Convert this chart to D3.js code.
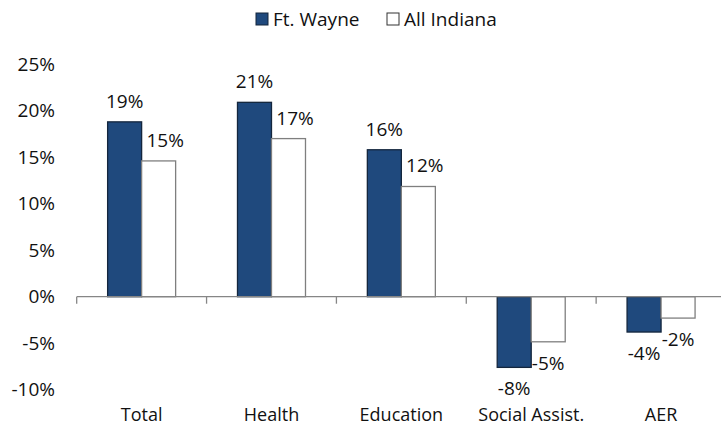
<!DOCTYPE html>
<html>
<head>
<meta charset="utf-8">
<script src="https://cdn.jsdelivr.net/npm/d3@7"></script>
<style>
  body { margin: 0; background: #fff; }
  svg { display: block; font-family: "Open Sans", "Noto Sans", sans-serif; }
  text { fill: #111; }
</style>
</head>
<body>
<svg id="chart"></svg>
<script>
// Percent change by sector, Ft. Wayne vs. all of Indiana
const categories = ['Total', 'Health', 'Education', 'Social Assist.', 'AER'];
const series = ['Ft. Wayne', 'All Indiana'];
const ftWayne = [18.8, 20.9, 15.8, -7.6, -3.8];
const allIndiana = [14.6, 17.0, 11.85, -4.85, -2.3];
const yTicks = [-10, -5, 0, 5, 10, 15, 20, 25];

const width = 721,
    height = 427,
    fontSize = 19;

const colors = { 'Ft. Wayne': '#1f497d', 'All Indiana': '#ffffff' };
const strokes = { 'Ft. Wayne': '#14263d', 'All Indiana': '#7f7f7f' };

const svg = d3.select('#chart')
    .attr('width', width)
    .attr('height', height);

// plot runs a little past the right edge of the picture
const x = d3.scaleBand()
    .domain(categories)
    .range([76.7, 726])
    .padding(0);

// two bars of 34px each, side by side in the middle of the band
const barW = 34;
const x1 = d3.scaleBand()
    .domain(series)
    .range([x.bandwidth() / 2 - barW, x.bandwidth() / 2 + barW]);

const y = d3.scaleLinear()
    .domain([-10, 25])
    .range([389.7, 64.2]);

const rows = categories.map((c, i) => ({
    cat: c,
    values: [
        { key: 'Ft. Wayne', value: ftWayne[i] },
        { key: 'All Indiana', value: allIndiana[i] }
    ]
}));

// y axis labels only
svg.append('g')
    .attr('transform', 'translate(77,0)')
    .call(d3.axisLeft(y)
        .tickValues(yTicks)
        .tickSize(0)
        .tickPadding(22)
        .tickFormat(d => d + '%'))
    .call(g => g.select('.domain').remove())
    .selectAll('text')
    .attr('font-size', fontSize)
    .attr('font-family', '"Open Sans", sans-serif')
    .attr('fill', '#111');

// bars
const groups = svg.append('g')
  .selectAll('g')
  .data(rows)
  .enter().append('g')
    .attr('transform', d => `translate(${x(d.cat)},0)`);

groups.selectAll('rect')
    .data(d => d.values)
    .enter().append('rect')
      .attr('x', d => x1(d.key))
      .attr('y', d => y(Math.max(0, d.value)))
      .attr('width', x1.bandwidth())
      .attr('height', d => Math.abs(y(d.value) - y(0)))
      .attr('fill', d => colors[d.key])
      .attr('stroke', d => strokes[d.key])
      .attr('stroke-width', 1.3);

// value labels
groups.selectAll('text.val')
    .data(d => d.values)
    .enter().append('text')
      .attr('class', 'val')
      .attr('text-anchor', 'middle')
      .attr('font-size', fontSize)
      .attr('x', d => x1(d.key) + x1.bandwidth() / 2 + (d.key === 'All Indiana' && d.value > 0 ? 6.5 : 0))
      .attr('y', d => d.value >= 0 ? y(d.value) - 14 : y(d.value) + 28)
      .text(d => Math.round(d.value) + '%');

// zero line with ticks between categories
const zero = svg.append('g')
    .attr('transform', `translate(0,${y(0)})`);
zero.append('line')
    .attr('x1', x.range()[0])
    .attr('x2', x.range()[1])
    .attr('stroke', '#868686')
    .attr('stroke-width', 1.3);
zero.selectAll('line.tick')
    .data(categories)
    .enter().append('line')
      .attr('class', 'tick')
      .attr('x1', d => x(d))
      .attr('x2', d => x(d))
      .attr('y1', 0)
      .attr('y2', 7)
      .attr('stroke', '#868686')
      .attr('stroke-width', 1.3);

// category labels along the bottom
svg.append('g')
    .attr('transform', 'translate(0,421)')
    .call(d3.axisBottom(x).tickSize(0).tickPadding(0))
    .call(g => g.select('.domain').remove())
    .selectAll('text')
    .attr('font-size', 18)
    .attr('font-family', '"Open Sans", sans-serif')
    .attr('fill', '#111')
    .attr('dy', 0);

// legend
const legend = svg.append('g')
    .attr('transform', 'translate(256,13)');
const item = legend.selectAll('g')
    .data(series)
    .enter().append('g')
      .attr('transform', (d, i) => `translate(${i * 131},0)`);
item.append('rect')
    .attr('width', 12)
    .attr('height', 12)
    .attr('fill', d => colors[d])
    .attr('stroke', d => d === 'Ft. Wayne' ? '#14263d' : '#333')
    .attr('stroke-width', 1);
item.append('text')
    .attr('x', 17)
    .attr('y', 13)
    .attr('font-size', fontSize)
    .text(d => d);
</script>
</body>
</html>
